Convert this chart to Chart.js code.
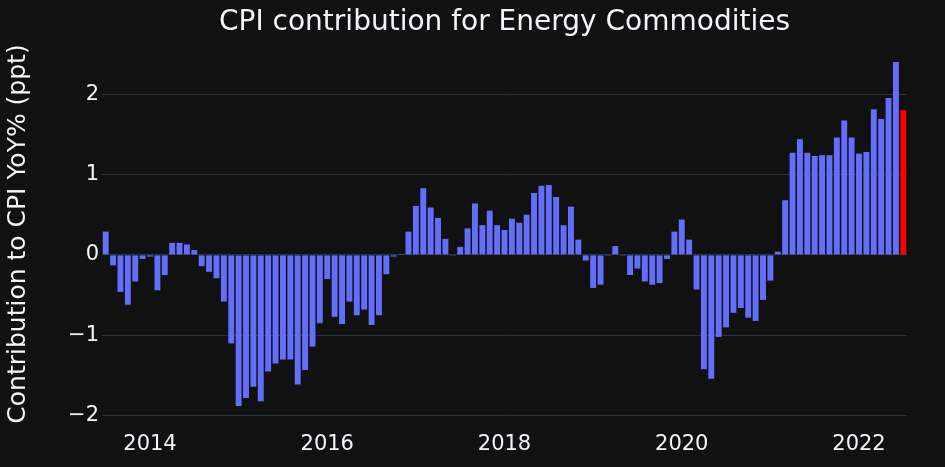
<!DOCTYPE html>
<html><head><meta charset="utf-8">
<script src="https://cdn.jsdelivr.net/npm/chart.js@4"></script>
<style>html,body{margin:0;padding:0;background:#111111;}#wrap{width:945px;height:467px;}</style>
</head><body><div id="wrap"><canvas id="c" width="945" height="467"></canvas></div>
<script>
const months = [
  "2013-07","2013-08","2013-09","2013-10","2013-11","2013-12",
  "2014-01","2014-02","2014-03","2014-04","2014-05","2014-06","2014-07","2014-08","2014-09","2014-10","2014-11","2014-12",
  "2015-01","2015-02","2015-03","2015-04","2015-05","2015-06","2015-07","2015-08","2015-09","2015-10","2015-11","2015-12",
  "2016-01","2016-02","2016-03","2016-04","2016-05","2016-06","2016-07","2016-08","2016-09","2016-10","2016-11","2016-12",
  "2017-01","2017-02","2017-03","2017-04","2017-05","2017-06","2017-07","2017-08","2017-09","2017-10","2017-11","2017-12",
  "2018-01","2018-02","2018-03","2018-04","2018-05","2018-06","2018-07","2018-08","2018-09","2018-10","2018-11","2018-12",
  "2019-01","2019-02","2019-03","2019-04","2019-05","2019-06","2019-07","2019-08","2019-09","2019-10","2019-11","2019-12",
  "2020-01","2020-02","2020-03","2020-04","2020-05","2020-06","2020-07","2020-08","2020-09","2020-10","2020-11","2020-12",
  "2021-01","2021-02","2021-03","2021-04","2021-05","2021-06","2021-07","2021-08","2021-09","2021-10","2021-11","2021-12",
  "2022-01","2022-02","2022-03","2022-04","2022-05","2022-06","2022-07"
];
const contribution = [
  0.29,-0.13,-0.46,-0.62,-0.33,-0.05,
  -0.02,-0.44,-0.25,0.15,0.15,0.13,0.06,-0.14,-0.21,-0.29,-0.58,-1.10,
  -1.88,-1.78,-1.64,-1.82,-1.45,-1.35,-1.30,-1.30,-1.61,-1.43,-1.14,-0.85,
  -0.30,-0.77,-0.86,-0.58,-0.75,-0.68,-0.87,-0.75,-0.24,-0.02,0.01,0.29,
  0.61,0.83,0.59,0.46,0.20,-0.01,0.10,0.33,0.64,0.37,0.55,0.37,
  0.31,0.45,0.40,0.50,0.77,0.86,0.87,0.72,0.37,0.60,0.19,-0.07,
  -0.41,-0.37,-0.01,0.11,-0.01,-0.25,-0.17,-0.33,-0.37,-0.35,-0.05,0.29,
  0.44,0.19,-0.43,-1.42,-1.54,-1.02,-0.90,-0.72,-0.66,-0.78,-0.82,-0.56,
  -0.32,0.04,0.68,1.27,1.44,1.27,1.23,1.24,1.24,1.46,1.67,1.46,
  1.26,1.28,1.81,1.69,1.95,2.40,1.80
];
const xTickYears = [2014, 2016, 2018, 2020, 2022];
const yTickValues = [-2, -1, 0, 1, 2];
const latestMonth = "2022-07";

const BLUE = '#636efa', RED = '#ff0000', TXT = '#f2f5fa', GRID = '#283442';
const FONT = 'DejaVu Sans';
function monthToX(s){ const [y,m] = s.split('-').map(Number); return y + (m-1)/12; }
const points = months.map((m,i)=>({x: monthToX(m), y: contribution[i]}));
const colors = months.map(m => m === latestMonth ? RED : BLUE);
const xMin = monthToX(months[0]) - 0.5/12, xMax = monthToX(months[months.length-1]) + 0.5/12;

const bgPlugin = { id:'bg', beforeDraw(c){ const ctx=c.ctx; ctx.save(); ctx.fillStyle='#111111'; ctx.fillRect(0,0,c.width,c.height); ctx.restore(); } };

new Chart(document.getElementById('c'), {
  type: 'bar',
  data: { datasets: [{ data: points, backgroundColor: colors, borderWidth: 0, barPercentage: 0.8, categoryPercentage: 1.0 }] },
  options: {
    responsive: false, animation: false, devicePixelRatio: 1,
    layout: { padding: { left: 0, right: 38, top: 0, bottom: 0 } },
    plugins: {
      legend: { display: false }, tooltip: { enabled: false },
      title: { display: true, fullSize: false, text: 'CPI contribution for Energy Commodities', color: TXT,
        font: { family: FONT, size: 28, weight: 'normal', lineHeight: 1.2 }, padding: { top: 6.2, bottom: 5.2 } }
    },
    scales: {
      x: { type: 'linear', min: xMin, max: xMax, offset: false,
        grid: { display: false, offset: false }, border: { display: false },
        ticks: { color: TXT, font: { family: FONT, size: 21 }, padding: 1, maxRotation: 0, callback: v => String(v) },
        afterBuildTicks(s){ s.ticks = xTickYears.map(v => ({ value: v })); },
        afterFit(s){ s.height = 44; } },
      y: { min: -2.09, max: 2.61,
        grid: { color: GRID, lineWidth: 1, drawTicks: false }, border: { display: false },
        ticks: { color: TXT, font: { family: FONT, size: 21 }, padding: 3,
          callback: v => v < 0 ? '\u2212' + Math.abs(v) : String(v) },
        title: { display: true, text: 'Contribution to CPI YoY% (ppt)', color: TXT,
          font: { family: FONT, size: 25, weight: 'normal', lineHeight: 1.2 }, padding: { top: 3, bottom: 0 } },
        afterBuildTicks(s){ s.ticks = yTickValues.map(v => ({ value: v })); },
        afterFit(s){ s.width = 102; } }
    }
  },
  plugins: [bgPlugin]
});
</script></body></html>
